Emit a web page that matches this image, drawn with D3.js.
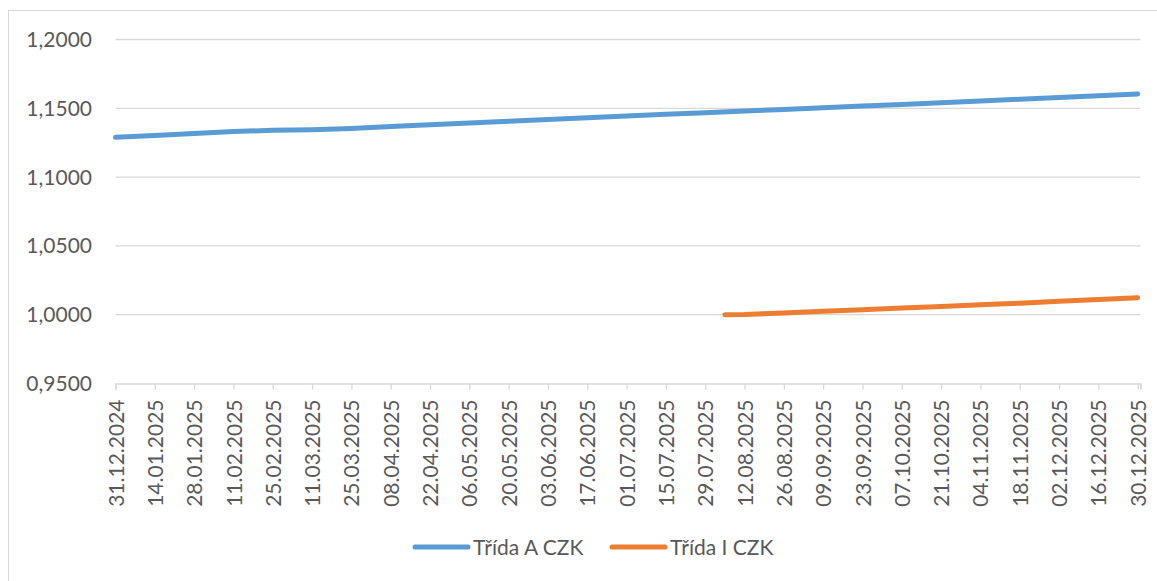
<!DOCTYPE html>
<html>
<head>
<meta charset="utf-8">
<script src="https://cdn.jsdelivr.net/npm/d3@7"></script>
<style>
  body { margin: 0; background: #fff; }
  svg { display: block; font-family: Lato, "Open Sans", sans-serif; }
</style>
</head>
<body>
<svg width="1157" height="581"></svg>
<script>
// Data
var datesA = ["31.12.2024","14.01.2025","28.01.2025","11.02.2025","25.02.2025","11.03.2025","25.03.2025",
  "08.04.2025","22.04.2025","06.05.2025","20.05.2025","03.06.2025","17.06.2025","01.07.2025","15.07.2025",
  "29.07.2025","12.08.2025","26.08.2025","09.09.2025","23.09.2025","07.10.2025","21.10.2025","04.11.2025",
  "18.11.2025","02.12.2025","16.12.2025","30.12.2025"];
var valuesA = [1.1289,1.1303,1.1316,1.1331,1.1340,1.1345,1.1354,1.1368,1.1380,1.1393,1.1405,1.1418,1.1431,
  1.1444,1.1456,1.1468,1.1480,1.1492,1.1504,1.1516,1.1528,1.1541,1.1553,1.1566,1.1579,1.1591,1.1604];
var datesI = ["05.08.2025","12.08.2025","26.08.2025","09.09.2025","23.09.2025","07.10.2025","21.10.2025",
  "04.11.2025","18.11.2025","02.12.2025","16.12.2025","30.12.2025"];
var valuesI = [1.0000,1.0002,1.0013,1.0025,1.0036,1.0048,1.0060,1.0072,1.0084,1.0097,1.0110,1.0123];
var tickLabels = datesA;
var yTicks = [0.95,1.0,1.05,1.1,1.15,1.2];
var seriesNames = ["Třída A CZK","Třída I CZK"];
var colors = ["#5b9bd5","#ed7d31"];

var parse = d3.timeParse("%d.%m.%Y");
var fmtY = function(v) { return d3.format(".4f")(v).replace(".", ","); };

var svg = d3.select("svg");

// chart border
svg.append("rect")
  .attr("x", 8.5).attr("y", 10.5)
  .attr("width", 1160).attr("height", 580)
  .attr("fill", "none").attr("stroke", "#d9d9d9").attr("stroke-width", 1);

var x = d3.scaleTime()
  .domain([parse("31.12.2024"), parse("31.12.2025")])
  .range([115.5, 1140.5]);
var y = d3.scaleLinear().domain([0.95, 1.2]).range([383.5, 39.5]);

// gridlines
svg.append("g").selectAll("line")
  .data(yTicks.slice(1))
  .enter().append("line")
    .attr("x1", x.range()[0]).attr("x2", x.range()[1])
    .attr("y1", function(d) { return y(d); })
    .attr("y2", function(d) { return y(d); })
    .attr("stroke", "#d9d9d9").attr("stroke-width", 1.3);

// y labels
svg.append("g").selectAll("text")
  .data(yTicks)
  .enter().append("text")
    .attr("x", 92).attr("y", function(d) { return y(d); })
    .attr("dy", "0.36em")
    .attr("text-anchor", "end")
    .attr("font-size", 21)
    .attr("fill", "#595959")
    .text(fmtY);

// x axis
var xAxis = d3.axisBottom(x)
  .tickValues(tickLabels.map(parse).concat([parse("31.12.2025")]))
  .tickSize(6)
  .tickFormat(function(d, i) { return i < tickLabels.length ? tickLabels[i] : ""; });

var gx = svg.append("g")
  .attr("transform", "translate(0," + y(0.95) + ")")
  .call(xAxis);
gx.select(".domain").attr("stroke", "#d9d9d9").attr("stroke-width", 1.3);
gx.selectAll(".tick line").attr("stroke", "#d9d9d9").attr("stroke-width", 1.3);
gx.selectAll(".tick text")
  .attr("font-family", "Lato, 'Open Sans', sans-serif")
  .attr("font-size", 21)
  .attr("fill", "#595959")
  .attr("transform", "rotate(-90)")
  .attr("text-anchor", "end")
  .attr("x", -16).attr("y", 0).attr("dy", "0.36em");

// lines
var line = d3.line()
  .x(function(d) { return x(d[0]); })
  .y(function(d) { return y(d[1]); });

var series = [
  datesA.map(function(d, i) { return [parse(d), valuesA[i]]; }),
  datesI.map(function(d, i) { return [parse(d), valuesI[i]]; })
];

svg.append("g").selectAll("path")
  .data(series)
  .enter().append("path")
    .attr("d", line)
    .attr("fill", "none")
    .attr("stroke", function(d, i) { return colors[i]; })
    .attr("stroke-width", 5)
    .attr("stroke-linecap", "round")
    .attr("stroke-linejoin", "round");

// legend
var legX = [415, 612];
var leg = svg.append("g").selectAll("g")
  .data(seriesNames)
  .enter().append("g")
    .attr("transform", function(d, i) { return "translate(" + legX[i] + ",547)"; });
leg.append("line")
  .attr("x1", 0).attr("x2", 53)
  .attr("stroke", function(d, i) { return colors[i]; })
  .attr("stroke-width", 5)
  .attr("stroke-linecap", "round");
leg.append("text")
  .attr("x", 58).attr("dy", "0.36em")
  .attr("font-size", 21)
  .attr("fill", "#595959")
  .text(function(d) { return d; });
</script>
</body>
</html>
